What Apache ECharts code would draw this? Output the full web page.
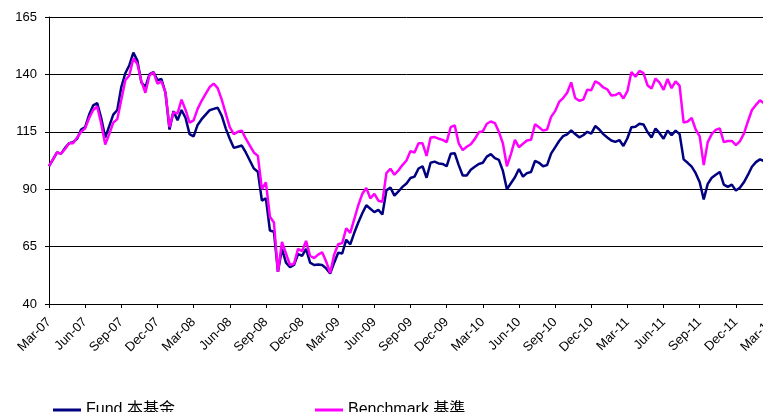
<!DOCTYPE html>
<html><head><meta charset="utf-8">
<script src="https://cdn.jsdelivr.net/npm/echarts@6/dist/echarts.min.js"></script>
<style>html,body{margin:0;padding:0;background:#fff}#c{width:763px;height:412px}</style>
</head><body><div id="c"></div>
<script>
// Quarterly tick labels (x axis)
const tickLabels = ['Mar-07','Jun-07','Sep-07','Dec-07','Mar-08','Jun-08','Sep-08','Dec-08','Mar-09','Jun-09','Sep-09','Dec-09','Mar-10','Jun-10','Sep-10','Dec-10','Mar-11','Jun-11','Sep-11','Dec-11','Mar-12'];
// Number of samples per quarter (about every 10 days)
const samplesPerQuarter = 9;
// Series names
const fundName = 'Fund 本基金';
const benchName = 'Benchmark 基準';
// Fund values
const fund = [
100,103,106,105.5,108,110,110.5,112,116,117,
122.5,126.5,127.5,121,112.5,117.5,122.5,124.5,134.5,140.5,
144,149.5,146,136.5,134.5,140,141,137.5,138,132,
116,124,120,124.5,121,114,113,118,120.5,122.5,
124.4,125,125.5,122,116.5,112,108,108.5,109,106,
102.5,99,97.6,85,86,72,71.5,54,64,58,
56,57,61.7,61,64,58,57,57.2,57,55.5,
53.3,58,62.3,62,68,66,71,75.5,79.5,83,
81.5,80,81,79,89.5,90.7,87.2,89,91,92.5,
94.9,95.5,99,100,95,101.5,102,101.2,101,100,
105.4,105.7,100.5,96,96,98.5,99.8,101,101.5,104.2,
105.3,103.5,102.8,98,90,92.6,95.2,98.8,95.5,97,
97.5,102.3,101.5,100,100.5,105.5,108.2,111,113.1,113.9,
115.6,114,112.6,113.5,115,114.2,117.5,116,114,112.5,
111.2,110.6,111.4,108.8,112.2,117,117.2,118.5,118.2,114.9,
112.5,116.4,114.4,112,115.5,113.5,115.5,114,103,101.5,
99.8,97,93,85.5,92.3,95,96.3,97.5,92,91,
92,89.4,90.6,93,96.2,99.8,101.8,103,102.2,101.8,
101.5
];
// Benchmark values
const bench = [
100,103,106,105.5,107.5,110,110,112.5,115,116.5,
121,124.5,126,118.5,109.5,114,119,120.5,129,137.5,
139.5,147,144.5,137,132,139.5,141,136,137,132,
117,123.5,123,129,124.5,119,120,125,128.5,131.5,
134.5,136,134,129,123,117,114,115,115.5,112,
109,106,104.5,90,93,78,75.5,54,67,62,
57,57.5,64,63,67.5,61,60,61.5,62.5,58.5,
53.5,61.5,66,66.5,73,71,77,83,88,90.5,
86,88,85,84.5,97,98.9,96.3,98.2,100.5,102.5,
106.6,106,110,110,104.5,112.5,112.7,112,111.5,110.5,
117,117.8,110,107,108.5,109.6,111.8,114.8,115.2,118.5,
119.5,118.8,115,110,100,105.3,111.5,108.3,109.8,111.2,
111.5,118.3,117,115.5,116,121.5,124,128,129.7,132,
136.5,129.7,128.5,129,133.3,133.1,137,136,134.3,133.5,
130.8,131,132,129.5,132.7,141,139,141.5,140.6,135.3,
133.8,138.2,136.4,133.3,138,134,137,135,119,119.5,
121,116,113,100.5,110.5,114,115.8,116.5,110.5,111,
111,109.2,110.8,114.2,119.5,124.5,126.7,128.7,127.5,127,
127.5
];
// Y axis range
const yMin = 40, yMax = 165, yStep = 25;

const font = "'Liberation Sans', Arial, 'Noto Sans CJK TC', sans-serif";
const toPairs = arr => arr.map((v, i) => [i, v]);
const xMax = (tickLabels.length - 1) * samplesPerQuarter;

const chart = echarts.init(document.getElementById('c'), null, {renderer: 'canvas'});
chart.setOption({
  animation: false,
  backgroundColor: '#fff',
  textStyle: {fontFamily: font},
  grid: {left: 49, top: 17, width: 723, bottom: 108, containLabel: false, outerBoundsMode: 'none'},
  legend: [
    {data: [fundName], left: 48, top: 397, icon: 'rect', itemWidth: 28, itemHeight: 3, itemGap: 5,
     textStyle: {fontSize: 16, color: '#000', fontFamily: font}, selectedMode: false},
    {data: [benchName], left: 310, top: 397, icon: 'rect', itemWidth: 28, itemHeight: 3, itemGap: 5,
     textStyle: {fontSize: 16, color: '#000', fontFamily: font}, selectedMode: false}
  ],
  xAxis: {
    type: 'value', min: 0, max: xMax, interval: samplesPerQuarter,
    axisLine: {show: true, onZero: false, lineStyle: {color: '#000', width: 1}},
    axisTick: {show: true, length: 4, lineStyle: {color: '#000'}},
    splitLine: {show: false},
    axisLabel: {
      rotate: 45, margin: 16, fontSize: 13, color: '#000', fontFamily: font,
      showMinLabel: true, showMaxLabel: true, hideOverlap: false,
      formatter: v => tickLabels[Math.round(v / samplesPerQuarter)] || ''
    }
  },
  yAxis: {
    type: 'value', min: yMin, max: yMax, interval: yStep,
    axisLine: {show: true, lineStyle: {color: '#000', width: 1}},
    axisTick: {show: true, length: 4, lineStyle: {color: '#000'}},
    splitLine: {show: true, lineStyle: {color: '#000', width: 1}},
    axisLabel: {margin: 12, fontSize: 13, color: '#000', fontFamily: font}
  },
  series: [
    {name: fundName, type: 'line', data: toPairs(fund), showSymbol: false, symbol: 'none',
     lineStyle: {color: '#000080', width: 2.5}, itemStyle: {color: '#000080'}, z: 2, emphasis: {disabled: true}},
    {name: benchName, type: 'line', data: toPairs(bench), showSymbol: false, symbol: 'none',
     lineStyle: {color: '#FF00FF', width: 2.5}, itemStyle: {color: '#FF00FF'}, z: 3, emphasis: {disabled: true}}
  ]
});
</script>
</body></html>
